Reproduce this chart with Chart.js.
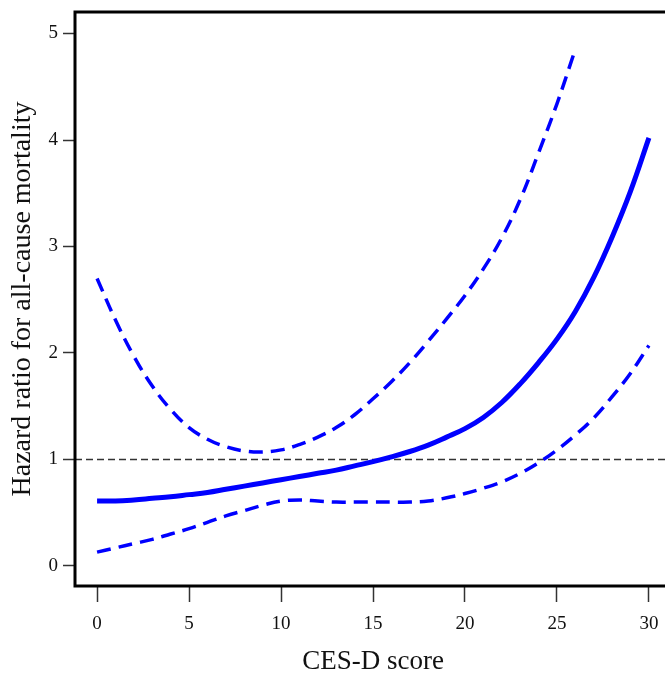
<!DOCTYPE html>
<html>
<head>
<meta charset="utf-8">
<script src="https://cdn.jsdelivr.net/npm/chart.js@4.4.0/dist/chart.umd.min.js"></script>
<style>
  html, body { margin: 0; padding: 0; background: #fff; overflow: hidden; }
</style>
</head>
<body>
<canvas id="hrChart" width="680" height="676"></canvas>
<script>
// CES-D score on the x axis
const scores = [0, 1, 2, 3, 4, 5, 6, 7, 8, 9, 10, 11, 12, 13, 14, 15,
                16, 17, 18, 19, 20, 21, 22, 23, 24, 25, 26, 27, 28, 29, 30];

// Hazard ratio (solid line)
const hazard = [0.61, 0.61, 0.62, 0.635, 0.65, 0.67, 0.69, 0.72, 0.75, 0.78, 0.81,
                0.84, 0.87, 0.90, 0.94, 0.98, 1.025, 1.075, 1.135, 1.21, 1.29,
                1.395, 1.535, 1.71, 1.91, 2.13, 2.39, 2.71, 3.09, 3.52, 4.02];

// Lower 95% CI (dashed)
const lowerCI = [0.13, 0.17, 0.21, 0.25, 0.30, 0.35, 0.41, 0.47, 0.52, 0.57, 0.61,
                 0.62, 0.61, 0.60, 0.60, 0.60, 0.60, 0.60, 0.61, 0.64, 0.68,
                 0.73, 0.79, 0.87, 0.97, 1.09, 1.23, 1.39, 1.59, 1.81, 2.07];

// Upper 95% CI (dashed) - stops near the top of the plot
const upperScores = [0, 1, 2, 3, 4, 5, 6, 7, 8, 9, 10, 11, 12, 13, 14, 15,
                     16, 17, 18, 19, 20, 21, 22, 23, 24, 25, 25.9];
const upperCI = [2.70, 2.31, 1.97, 1.69, 1.47, 1.30, 1.19, 1.12, 1.08, 1.07, 1.09,
                 1.14, 1.21, 1.30, 1.42, 1.57, 1.73, 1.91, 2.11, 2.32, 2.54,
                 2.79, 3.08, 3.44, 3.88, 4.34, 4.80];

const xTicks = [0, 5, 10, 15, 20, 25, 30];
const yTicks = [0, 1, 2, 3, 4, 5];
const refValue = 1;

// axis limits (R style 4% extension)
const xMin = -1.2, xMax = 31.2;
const yMin = -0.188, yMax = 5.202;

function toPoints(xs, ys) {
    return xs.map((x, i) => ({ x: x, y: ys[i] }));
}

// Draws the box around the plot region
const plotBox = {
    id: 'plotBox',
    afterDraw(chart) {
        const { ctx, chartArea } = chart;
        ctx.save();
        ctx.lineWidth = 3;
        ctx.strokeStyle = '#000';
        ctx.strokeRect(chartArea.left, chartArea.top,
                       chartArea.right - chartArea.left, chartArea.bottom - chartArea.top);
        ctx.restore();
    }
};

// no extra room for edge labels, the layout is fixed
function noEdgePadding(scale) {
    scale.paddingTop = 0;
    scale.paddingBottom = 0;
    scale.paddingLeft = 0;
    scale.paddingRight = 0;
}

const serif = 'Liberation Serif';
const blue = '#0000ff';

const ctx = document.getElementById('hrChart').getContext('2d');
const chart = new Chart(ctx, {
    type: 'line',
    data: {
        datasets: [
            {
                label: 'HR',
                data: toPoints(scores, hazard),
                borderColor: blue,
                borderWidth: 5,
                tension: 0.4,
                order: 1
            },
            {
                label: 'Upper CI',
                data: toPoints(upperScores, upperCI),
                borderColor: blue,
                borderWidth: 3.5,
                borderDash: [14, 8],
                tension: 0.4,
                order: 2
            },
            {
                label: 'Lower CI',
                data: toPoints(scores, lowerCI),
                borderColor: blue,
                borderWidth: 3.5,
                borderDash: [14, 8],
                tension: 0.4,
                order: 3
            },
            {
                label: 'Reference',
                data: toPoints([xMin, xMax], [refValue, refValue]),
                borderColor: '#333',
                borderWidth: 1.3,
                borderDash: [7, 4],
                order: 4
            }
        ]
    },
    options: {
        responsive: false,
        animation: false,
        layout: {
            padding: { left: 0, top: 12, right: 9, bottom: 0 }
        },
        elements: {
            point: { radius: 0 },
            line: { fill: false, borderCapStyle: 'butt' }
        },
        scales: {
            x: {
                type: 'linear',
                min: xMin,
                max: xMax,
                afterBuildTicks: function(scale) {
                    scale.ticks = xTicks.map(v => ({ value: v }));
                },
                afterFit: function(scale) {
                    scale.height = 90;
                    noEdgePadding(scale);
                },
                grid: {
                    drawOnChartArea: false,
                    drawTicks: true,
                    tickLength: 16,
                    tickColor: '#333',
                    tickWidth: 1.5
                },
                border: { display: false },
                ticks: {
                    color: '#111',
                    padding: 11,
                    maxRotation: 0,
                    font: { family: serif, size: 19 }
                },
                title: {
                    display: true,
                    text: 'CES-D score',
                    color: '#111',
                    font: { family: serif, size: 27, lineHeight: 1 },
                    padding: { top: 0, bottom: 1 }
                }
            },
            y: {
                type: 'linear',
                min: yMin,
                max: yMax,
                afterBuildTicks: function(scale) {
                    scale.ticks = yTicks.map(v => ({ value: v }));
                },
                afterFit: function(scale) {
                    scale.width = 75;
                    noEdgePadding(scale);
                },
                grid: {
                    drawOnChartArea: false,
                    drawTicks: true,
                    tickLength: 12,
                    tickColor: '#333',
                    tickWidth: 1.5
                },
                border: { display: false },
                ticks: {
                    color: '#111',
                    padding: 5,
                    font: { family: serif, size: 19 }
                },
                title: {
                    display: true,
                    text: 'Hazard ratio for all-cause mortality',
                    color: '#111',
                    font: { family: serif, size: 28, lineHeight: 1 },
                    padding: { top: 9, bottom: 0 }
                }
            }
        },
        plugins: {
            legend: { display: false },
            tooltip: { enabled: false }
        }
    },
    plugins: [plotBox]
});
</script>
</body>
</html>
